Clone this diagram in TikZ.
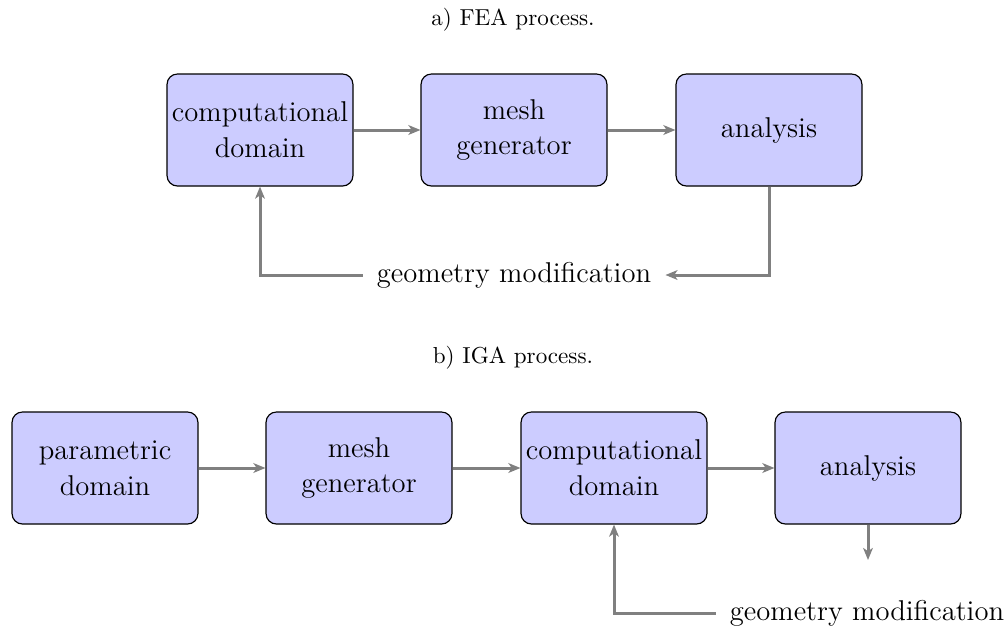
\documentclass[tikz,border=0pt]{standalone}
\usetikzlibrary{arrows.meta}
\begin{document}
\begin{tikzpicture}[x=0.433pt,y=-0.433pt,
  procbox/.style={draw=black,fill=blue!20,rounded corners=4.5pt,minimum width=80.5pt,minimum height=48.5pt,align=center,font=\fontsize{12.4}{15.5}\selectfont,inner sep=2pt,line width=0.5pt},
  flow/.style={draw=gray,line width=1.3pt,-{Stealth[length=5.2pt,width=4.2pt,inset=1.4pt]}},
  titletext/.style={font=\normalsize},
  modtext/.style={font=\fontsize{12.4}{15.5}\selectfont,inner sep=6pt}]
\useasboundingbox (0,0) rectangle (1005,628);
% FEA
\node[titletext] (ta) at (513,20) {a) FEA process.};
\node[procbox] (a1) at (260,130) {computational\\domain};
\node[procbox] (a2) at (514,130) {mesh\\generator};
\node[procbox] (a3) at (769,130) {analysis};
\node[modtext] (am) at (514,275) {geometry modification};
\draw[flow] (a1) -- (a2);
\draw[flow] (a2) -- (a3);
\draw[flow] (a3.south) |- (am.east);
\draw[flow] (am.west) -| (a1.south);
% IGA
\node[titletext] (tb) at (513,358) {b) IGA process.};
\node[procbox] (b1) at (105,468) {parametric\\domain};
\node[procbox] (b2) at (359,468) {mesh\\generator};
\node[procbox] (b3) at (614,468) {computational\\domain};
\node[procbox] (b4) at (868,468) {analysis};
\node[modtext] (bm) at (867,613) {geometry modification};
\coordinate (bend) at (868,560);
\draw[flow] (b1) -- (b2);
\draw[flow] (b2) -- (b3);
\draw[flow] (b3) -- (b4);
\draw[flow] (b4.south) -- (bend);
\draw[flow] (bm.west) -| (b3.south);
\end{tikzpicture}
\end{document}
